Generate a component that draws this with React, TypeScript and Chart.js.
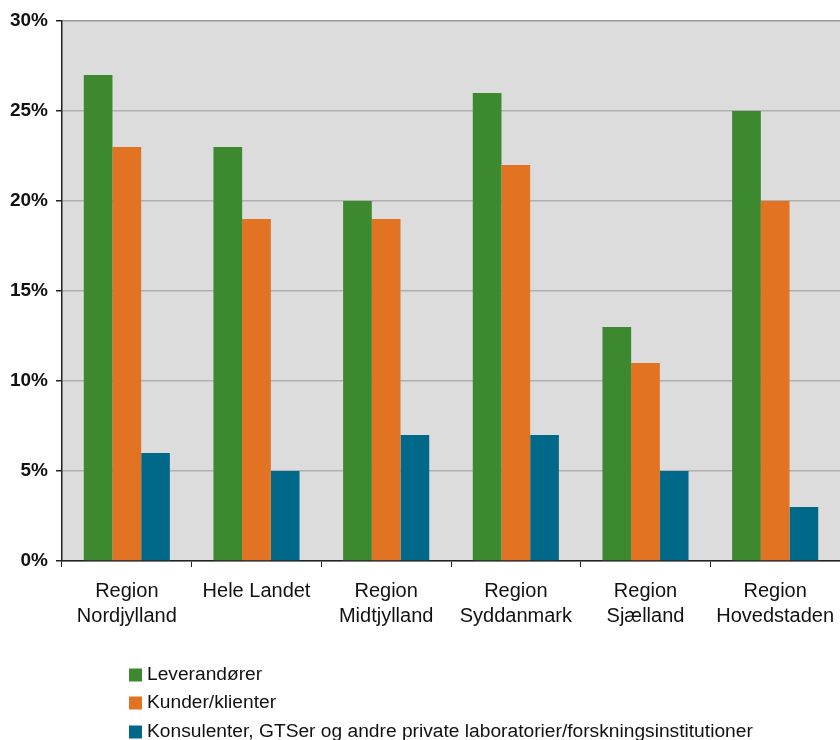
import React, { useEffect, useRef } from "react";
import { Chart, registerables } from "chart.js";

Chart.register(...registerables);

const categories: string[][] = [
  ["Region", "Nordjylland"],
  ["Hele Landet"],
  ["Region", "Midtjylland"],
  ["Region", "Syddanmark"],
  ["Region", "Sjælland"],
  ["Region", "Hovedstaden"],
];
const seriesNames = [
  "Leverandører",
  "Kunder/klienter",
  "Konsulenter, GTSer og andre private laboratorier/forskningsinstitutioner",
];
const leverandorer = [27, 23, 20, 26, 13, 25];
const kunder = [23, 19, 19, 22, 11, 20];
const konsulenter = [6, 5, 7, 7, 5, 3];
const seriesColors = ["#3d8930", "#e27323", "#00698a"];
const yTicks = [0, 5, 10, 15, 20, 25, 30];

const FONT = "'Liberation Sans', Arial, Helvetica, sans-serif";

const bgPlugin = {
  id: "bgPlugin",
  beforeDraw(chart: any) {
    const { ctx, chartArea } = chart;
    ctx.save();
    ctx.fillStyle = "#dcdcdc";
    ctx.fillRect(chartArea.left, chartArea.top, chartArea.right - chartArea.left, chartArea.bottom - chartArea.top);
    ctx.restore();
  },
};

const legendPlugin = {
  id: "customLegend",
  afterDraw(chart: any) {
    const { ctx } = chart;
    const rowsY = [675, 703, 732];
    ctx.save();
    ctx.font = `19.2px ${FONT}`;
    ctx.textBaseline = "middle";
    ctx.textAlign = "left";
    chart.data.datasets.forEach((ds: any, i: number) => {
      const y = rowsY[i];
      ctx.fillStyle = ds.backgroundColor;
      ctx.fillRect(129, y - 6.5, 13, 13);
      ctx.fillStyle = "#111";
      ctx.fillText(ds.label, 147, y);
    });
    ctx.restore();
  },
};

export default function App() {
  const ref = useRef<HTMLCanvasElement | null>(null);
  useEffect(() => {
    document.body.style.margin = "0";
    const canvas = ref.current!;
    const data = [leverandorer, kunder, konsulenter];
    const chart = new Chart(canvas, {
      type: "bar",
      data: {
        labels: categories,
        datasets: seriesNames.map((name, i) => ({
          label: name,
          data: data[i],
          backgroundColor: seriesColors[i],
          borderWidth: 0,
          categoryPercentage: 0.664,
          barPercentage: 1,
        })),
      },
      options: {
        animation: false,
        responsive: false,
        maintainAspectRatio: false,
        layout: { padding: { top: 21, left: 0, right: 0, bottom: 0 } },
        plugins: {
          legend: { display: false },
          tooltip: { enabled: false },
        },
        scales: {
          x: {
            grid: {
              display: true,
              drawOnChartArea: false,
              tickLength: 6,
              tickColor: "#222",
              offset: true,
            },
            border: { color: "#222", width: 1.5 },
            ticks: {
              color: "#111",
              font: { family: FONT, size: 20, lineHeight: 1.25 },
              padding: 12,
              maxRotation: 0,
              autoSkip: false,
            },
            afterFit(scale: any) {
              scale.height = 179;
              scale.paddingLeft = 0;
              scale.paddingRight = 0;
            },
          },
          y: {
            min: 0,
            max: 30,
            afterBuildTicks(scale: any) {
              scale.ticks = yTicks.map((v) => ({ value: v }));
            },
            grid: {
              color: (c: any) => (c.tick && c.tick.value === 30 ? "#999" : "#b0b0b0"),
              lineWidth: 1.5,
              tickLength: 6,
              tickColor: "#222",
            },
            border: { color: "#222", width: 1.5 },
            ticks: {
              color: "#111",
              font: { family: FONT, size: 19, weight: "bold" },
              padding: 8,
              callback: (v: any) => v + "%",
            },
            afterFit(scale: any) {
              scale.width = 62;
            },
          },
        },
      },
      plugins: [bgPlugin, legendPlugin],
    } as any);
    return () => chart.destroy();
  }, []);
  return <canvas ref={ref} width={840} height={740} style={{ display: "block" }} />;
}
